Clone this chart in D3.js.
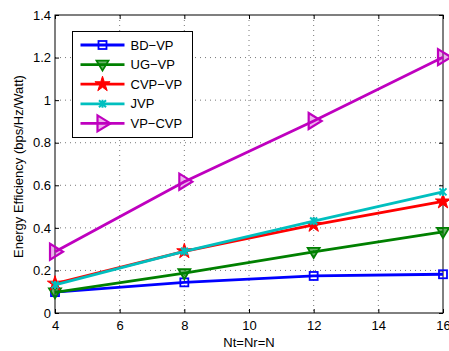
<!DOCTYPE html>
<html>
<head>
<meta charset="utf-8">
<script src="https://cdn.jsdelivr.net/npm/d3@7"></script>
<style>
  body { margin: 0; background: #fff; }
  text { font-family: "Liberation Sans", Arial, sans-serif; }
</style>
</head>
<body>
<div id="chart"></div>
<script>
const antennas = [4, 8, 12, 16];
const bdVP = [0.098, 0.144, 0.174, 0.182];
const ugVP = [0.097, 0.187, 0.287, 0.381];
const cvpVP = [0.138, 0.29, 0.414, 0.524];
const jvp = [0.132, 0.29, 0.432, 0.569];
const vpCVP = [0.288, 0.617, 0.902, 1.202];
const xTicks = [4, 6, 8, 10, 12, 14, 16];
const yTicks = [0, 0.2, 0.4, 0.6, 0.8, 1, 1.2, 1.4];

const series = [
  {name: "BD\u2212VP", values: bdVP, color: "#0000ff", marker: "square"},
  {name: "UG\u2212VP", values: ugVP, color: "#008000", marker: "triDown"},
  {name: "CVP\u2212VP", values: cvpVP, color: "#ff0000", marker: "star"},
  {name: "JVP", values: jvp, color: "#00bfbf", marker: "cross"},
  {name: "VP\u2212CVP", values: vpCVP, color: "#bf00bf", marker: "triRight"}
];

const W = 449, H = 351;
const margin = {top: 15, right: 6, bottom: 38, left: 55};
const width = W - margin.left - margin.right,
      height = H - margin.top - margin.bottom;

const svg = d3.select("#chart").append("svg")
  .attr("width", W).attr("height", H)
  .append("g")
  .attr("transform", `translate(${margin.left},${margin.top})`);

const x = d3.scaleLinear().domain([4, 16]).range([0, width]);
const y = d3.scaleLinear().domain([0, 1.4]).range([height, 0]);

// grid
svg.append("g").selectAll("line").data(xTicks.slice(1, -1)).join("line")
  .attr("x1", d => x(d)).attr("x2", d => x(d)).attr("y1", 0).attr("y2", height)
  .attr("stroke", "#555").attr("stroke-width", 0.8).attr("stroke-dasharray", "1,4");
svg.append("g").selectAll("line").data(yTicks.slice(1, -1)).join("line")
  .attr("y1", d => y(d)).attr("y2", d => y(d)).attr("x1", 0).attr("x2", width)
  .attr("stroke", "#555").attr("stroke-width", 0.8).attr("stroke-dasharray", "1,4");

// axes with inward ticks
const fmt = d => d3.format("~g")(d);
svg.append("g").attr("transform", `translate(0,${height})`)
  .call(d3.axisBottom(x).tickValues(xTicks).tickFormat(fmt).tickSizeInner(-4).tickSizeOuter(0).tickPadding(8));
svg.append("g")
  .call(d3.axisLeft(y).tickValues(yTicks).tickFormat(fmt).tickSizeInner(-4).tickSizeOuter(0).tickPadding(4));
svg.append("g")
  .call(d3.axisTop(x).tickValues(xTicks).tickFormat("").tickSizeInner(-4).tickSizeOuter(0));
svg.append("g").attr("transform", `translate(${width},0)`)
  .call(d3.axisRight(y).tickValues(yTicks).tickFormat("").tickSizeInner(-4).tickSizeOuter(0));
svg.selectAll(".domain").remove();
svg.selectAll(".tick text").attr("font-size", 13).attr("fill", "#000")
  .style("font-family", "'Liberation Sans', Arial, sans-serif");
svg.selectAll(".tick line").attr("stroke", "#000");

svg.append("rect").attr("width", width).attr("height", height)
  .attr("fill", "none").attr("stroke", "#000").attr("stroke-width", 1);

// labels
svg.append("text").attr("x", width / 2).attr("y", height + 33.5)
  .attr("text-anchor", "middle").attr("font-size", 13).text("Nt=Nr=N");
svg.append("text").attr("transform", `translate(-32.5,${height / 2 + 2.5}) rotate(-90)`)
  .attr("text-anchor", "middle").attr("font-size", 13).text("Energy Efficiency (bps/Hz/Watt)");

// markers
function drawMarker(g, type, color) {
  const sw = 1.8;
  if (type === "square") {
    g.append("rect").attr("x", -4).attr("y", -4).attr("width", 8).attr("height", 8)
      .attr("fill", "none").attr("stroke", color).attr("stroke-width", sw);
  } else if (type === "triDown") {
    g.append("path").attr("d", "M-6,-4L6,-4L0,6Z")
      .attr("fill", color).attr("fill-opacity", 0.6).attr("stroke", color).attr("stroke-width", sw);
  } else if (type === "star") {
    const pts = d3.range(10).map(i => {
      const r = i % 2 ? 3 : 8, a = -Math.PI / 2 + i * Math.PI / 5;
      return [r * Math.cos(a), r * Math.sin(a)];
    });
    g.append("path").attr("d", "M" + pts.join("L") + "Z")
      .attr("fill", color).attr("stroke", color).attr("stroke-width", 1);
  } else if (type === "cross") {
    g.append("path").attr("d", "M-3.5,-3.5L3.5,3.5M-3.5,3.5L3.5,-3.5M0,-4L0,4")
      .attr("stroke", color).attr("stroke-width", 2);
  } else if (type === "triRight") {
    g.append("path").attr("d", "M-5,-8L8,0L-5,8Z")
      .attr("fill", color).attr("fill-opacity", 0.3).attr("stroke", color).attr("stroke-width", 2.2);
  }
}

const line = d3.line().x((d, i) => x(antennas[i])).y(d => y(d));
series.forEach(s => {
  svg.append("path").datum(s.values).attr("d", line)
    .attr("fill", "none").attr("stroke", s.color).attr("stroke-width", 2.8);
  s.values.forEach((v, i) => {
    const g = svg.append("g").attr("transform", `translate(${x(antennas[i])},${y(v)})`);
    drawMarker(g, s.marker, s.color);
  });
});

// legend
const lg = svg.append("g").attr("transform", `translate(${72.5 - margin.left},${31.5 - margin.top})`);
lg.append("rect").attr("width", 120).attr("height", 106)
  .attr("fill", "#fff").attr("stroke", "#000").attr("stroke-width", 1);
series.forEach((s, i) => {
  const yy = 13.5 + i * 19.6;
  lg.append("line").attr("x1", 8).attr("x2", 52).attr("y1", yy).attr("y2", yy)
    .attr("stroke", s.color).attr("stroke-width", 2.8);
  drawMarker(lg.append("g").attr("transform", `translate(30,${yy})`), s.marker, s.color);
  lg.append("text").attr("x", 58).attr("y", yy + 4.5).attr("font-size", 13).text(s.name);
});
</script>
</body>
</html>
